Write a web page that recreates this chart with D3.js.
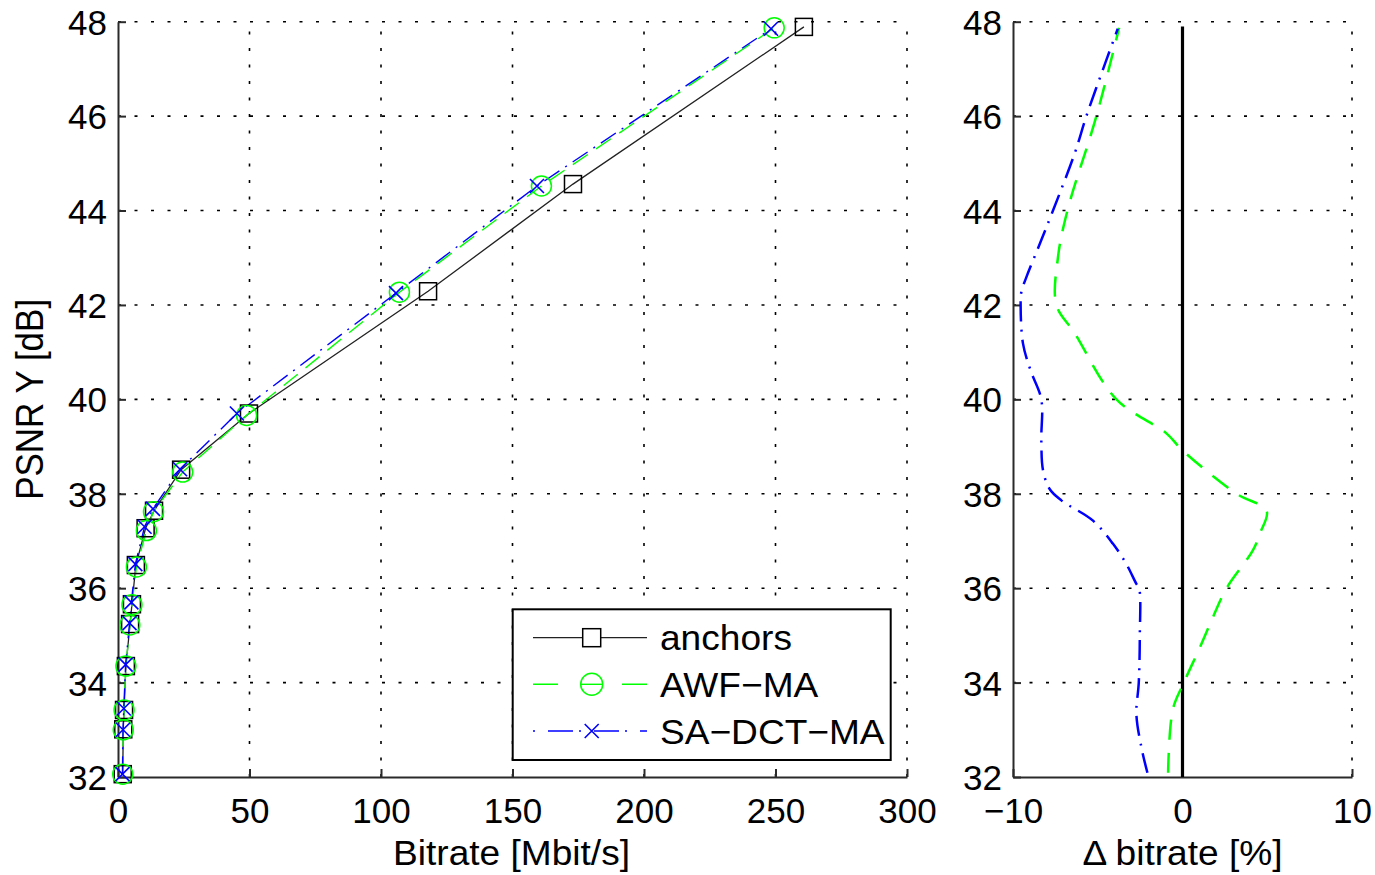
<!DOCTYPE html>
<html><head><meta charset="utf-8">
<script src="https://cdn.jsdelivr.net/npm/d3@7"></script>
<style>
html,body{margin:0;padding:0;background:#fff;}
svg text{font-family:"Liberation Sans",Arial,sans-serif;fill:#000;}
</style></head>
<body>
<svg id="c" width="1375" height="875"></svg>
<script>
// ---------- data ----------
const seriesNames = ["anchors", "AWF-MA", "SA-DCT-MA"];
const anchorsBitrate = [1.8, 2.0, 2.3, 3.0, 4.6, 5.3, 6.8, 10.5, 13.7, 24.0, 49.8, 117.9, 173.0, 260.8];
const anchorsPsnr    = [32.06, 33.01, 33.42, 34.35, 35.24, 35.66, 36.49, 37.27, 37.64, 38.51, 39.70, 42.29, 44.56, 47.89];
const awfBitrate     = [1.8, 2.0, 2.3, 3.0, 4.5, 5.3, 7.0, 10.8, 13.5, 24.6, 48.9, 107.0, 161.0, 249.5];
const awfPsnr        = [32.06, 33.00, 33.42, 34.35, 35.22, 35.65, 36.45, 37.22, 37.62, 38.46, 39.66, 42.27, 44.52, 47.87];
const saBitrate      = [1.7, 1.9, 2.2, 2.9, 4.4, 5.1, 6.6, 10.1, 13.3, 23.6, 45.2, 105.7, 159.3, 248.3];
const saPsnr         = [32.06, 33.00, 33.45, 34.38, 35.26, 35.70, 36.51, 37.30, 37.68, 38.52, 39.70, 42.25, 44.52, 47.85];

// delta bitrate curves: [delta %, PSNR]
const awfDelta = [-0.85, -0.57, 0.08, 1.02, 1.79, 2.6, 4.15, 4.57, 4.96, 3.19, 0.0, -0.95, -3.9, -6.36, -7.44, -7.35, -6.79, -5.08, -3.74];
const awfDeltaPsnr = [32.09, 33.43, 34.0, 34.74, 35.38, 36.0, 36.8, 37.16, 37.64, 38.0, 38.92, 39.28, 40.0, 41.4, 42.0, 43.0, 44.0, 46.0, 47.87];
const saDelta = [-2.07, -2.42, -2.72, -2.58, -2.52, -2.56, -2.72, -3.31, -4.1, -5.28, -7.15, -7.84, -8.23, -8.33, -8.33, -8.96, -9.41, -9.55, -9.51, -9.21, -8.47, -7.64, -6.36, -5.67, -4.49, -3.82];
const saDeltaPsnr = [32.09, 32.62, 33.33, 34.0, 34.96, 36.0, 36.09, 36.51, 36.94, 37.43, 37.86, 38.1, 38.5, 39.13, 40.0, 40.61, 41.18, 42.0, 42.27, 42.59, 43.25, 44.0, 45.21, 46.0, 47.19, 47.85];

const xTicksLeft = [0, 50, 100, 150, 200, 250, 300];
const yTicks = [32, 34, 36, 38, 40, 42, 44, 46, 48];
const xTicksRight = [-10, 0, 10];

// ---------- drawing ----------
const svg = d3.select("#c");
const FS = 35;       // tick label size
const LFS = 35;      // label / legend size
const SX = 1.06;     // slight horizontal stretch of the reference text
const xL = d3.scaleLinear().domain([0, 300]).range([118, 907]);
const xR = d3.scaleLinear().domain([-10, 10]).range([1013, 1352]);
const y = d3.scaleLinear().domain([32, 48]).range([777, 21.7]);

const gridDash = "3,13.5";

function panel(xs, xt) {
  const g = svg.append("g");
  const [x0, x1] = xs.range();
  const [y0, y1] = y.range();
  g.selectAll("line.hg").data(yTicks.filter(d => d !== 32)).join("line")
    .attr("x1", x0).attr("x2", x1).attr("y1", d => y(d)).attr("y2", d => y(d))
    .attr("stroke", "#000").attr("stroke-width", 1.6).attr("stroke-dasharray", gridDash);
  g.selectAll("line.vg").data(xt.filter(d => d !== xs.domain()[0])).join("line")
    .attr("x1", d => xs(d)).attr("x2", d => xs(d)).attr("y1", y0).attr("y2", y1)
    .attr("stroke", "#000").attr("stroke-width", 1.6).attr("stroke-dasharray", gridDash);
  const ax = g.append("g").attr("transform", `translate(0,${y0})`)
    .call(d3.axisBottom(xs).tickValues(xt).tickSize(-8).tickPadding(21).tickSizeOuter(0));
  const ay = g.append("g").attr("transform", `translate(${x0},0)`)
    .call(d3.axisLeft(y).tickValues(yTicks).tickSize(-8).tickPadding(11).tickSizeOuter(0));
  [ax, ay].forEach(a => {
    a.select(".domain").attr("stroke", "#2a2a2a").attr("stroke-width", 2);
    a.selectAll(".tick line").attr("stroke", "#2a2a2a").attr("stroke-width", 2);
    a.selectAll(".tick text").attr("font-size", FS).attr("font-family", '"Liberation Sans",Arial,sans-serif').attr("fill", "#000");
  });
  ay.selectAll(".tick text").attr("dy", "0.36em");
  return g;
}

const gL = panel(xL, xTicksLeft);
const gR = panel(xR, xTicksRight);

// ---- left panel series ----
const lineL = d3.line().x(d => xL(d[0])).y(d => y(d[1]));
const anc = anchorsBitrate.map((b, i) => [b, anchorsPsnr[i]]);
const awf = awfBitrate.map((b, i) => [b, awfPsnr[i]]);
const sa = saBitrate.map((b, i) => [b, saPsnr[i]]);

gL.append("path").datum(anc).attr("d", lineL).attr("fill", "none")
  .attr("stroke", "#222").attr("stroke-width", 1.3);
gL.append("path").datum(awf).attr("d", lineL).attr("fill", "none")
  .attr("stroke", "#00ff00").attr("stroke-width", 1.4).attr("stroke-dasharray", "18,10");
gL.append("path").datum(sa).attr("d", lineL).attr("fill", "none")
  .attr("stroke", "#0000ff").attr("stroke-width", 1.4).attr("stroke-dasharray", "18,7,2,7");

const SQ = 17, CR = 10, XS = 7;
gL.selectAll("rect.m").data(anc).join("rect")
  .attr("x", d => xL(d[0]) - SQ / 2).attr("y", d => y(d[1]) - SQ / 2)
  .attr("width", SQ).attr("height", SQ)
  .attr("fill", "none").attr("stroke", "#000").attr("stroke-width", 1.5);
gL.selectAll("circle.m").data(awf).join("circle")
  .attr("cx", d => xL(d[0])).attr("cy", d => y(d[1])).attr("r", CR)
  .attr("fill", "none").attr("stroke", "#00ff00").attr("stroke-width", 1.5);
gL.selectAll("path.xm").data(sa).join("path")
  .attr("d", d => { const cx = xL(d[0]), cy = y(d[1]);
    return `M${cx - XS},${cy - XS}L${cx + XS},${cy + XS}M${cx - XS},${cy + XS}L${cx + XS},${cy - XS}`; })
  .attr("stroke", "#0000ff").attr("stroke-width", 1.6).attr("fill", "none");

// ---- right panel ----
gR.append("line").attr("x1", xR(0)).attr("x2", xR(0)).attr("y1", y(32)).attr("y2", y(47.9))
  .attr("stroke", "#000").attr("stroke-width", 3.2);
const lineR = d3.line().x(d => xR(d[0])).y(d => y(d[1])).curve(d3.curveCatmullRom.alpha(0.5));
gR.append("path").datum(awfDelta.map((v, i) => [v, awfDeltaPsnr[i]])).attr("d", lineR)
  .attr("fill", "none").attr("stroke", "#00ff00").attr("stroke-width", 2.5).attr("stroke-dasharray", "20,13");
gR.append("path").datum(saDelta.map((v, i) => [v, saDeltaPsnr[i]])).attr("d", lineR)
  .attr("fill", "none").attr("stroke", "#0000ff").attr("stroke-width", 2.5).attr("stroke-dasharray", "20,8,2,8");

// ---- axis labels ----
function hText(x, yy, txt, anchor) {
  return svg.append("text").attr("transform", `translate(${x},${yy}) scale(${SX},1)`)
    .attr("text-anchor", anchor || "middle").attr("font-size", LFS).text(txt);
}
hText(xL(150) - 1, 865, "Bitrate [Mbit/s]");
hText(xR(0), 865, "Δ bitrate [%]");
svg.append("text").attr("transform", `translate(43,${y(40)}) rotate(-90) scale(1,1.12)`).attr("text-anchor", "middle")
  .attr("font-size", LFS).text("PSNR Y [dB]");

// ---- legend ----
const lg = svg.append("g");
lg.append("rect").attr("x", 512.7).attr("y", 609.3).attr("width", 378).attr("height", 150.7)
  .attr("fill", "#fff").attr("stroke", "#000").attr("stroke-width", 2);
const rows = [637.7, 684.3, 731];
const lx0 = 533, lx1 = 647, lmx = 591.7;
lg.append("line").attr("x1", lx0).attr("x2", lx1).attr("y1", rows[0]).attr("y2", rows[0])
  .attr("stroke", "#222").attr("stroke-width", 1.3);
lg.append("rect").attr("x", lmx - 9).attr("y", rows[0] - 9).attr("width", 18).attr("height", 18)
  .attr("fill", "#fff").attr("stroke", "#000").attr("stroke-width", 1.5);
lg.append("line").attr("x1", lx0).attr("x2", lx1).attr("y1", rows[1]).attr("y2", rows[1])
  .attr("stroke", "#00ff00").attr("stroke-width", 1.4).attr("stroke-dasharray", "25,39,0,25,25");
lg.append("circle").attr("cx", lmx).attr("cy", rows[1]).attr("r", 11)
  .attr("fill", "none").attr("stroke", "#00ff00").attr("stroke-width", 1.5);
lg.append("line").attr("x1", lmx - 11).attr("x2", lmx + 11).attr("y1", rows[1]).attr("y2", rows[1])
  .attr("stroke", "#00ff00").attr("stroke-width", 1.4);
lg.append("line").attr("x1", lx0).attr("x2", lx1).attr("y1", rows[2]).attr("y2", rows[2])
  .attr("stroke", "#0000ff").attr("stroke-width", 1.4).attr("stroke-dasharray", "2,13,25,6");
lg.append("path").attr("d", `M${lmx - 7},${rows[2] - 7}L${lmx + 7},${rows[2] + 7}M${lmx - 7},${rows[2] + 7}L${lmx + 7},${rows[2] - 7}`)
  .attr("stroke", "#0000ff").attr("stroke-width", 1.6);
seriesNames.forEach((n, i) => {
  lg.append("text").attr("transform", `translate(660,${rows[i]}) scale(${SX},1)`).attr("dy", "0.36em")
    .attr("font-size", LFS).text(n.replace(/-/g, "\u2212"));
});
</script>
</body></html>
